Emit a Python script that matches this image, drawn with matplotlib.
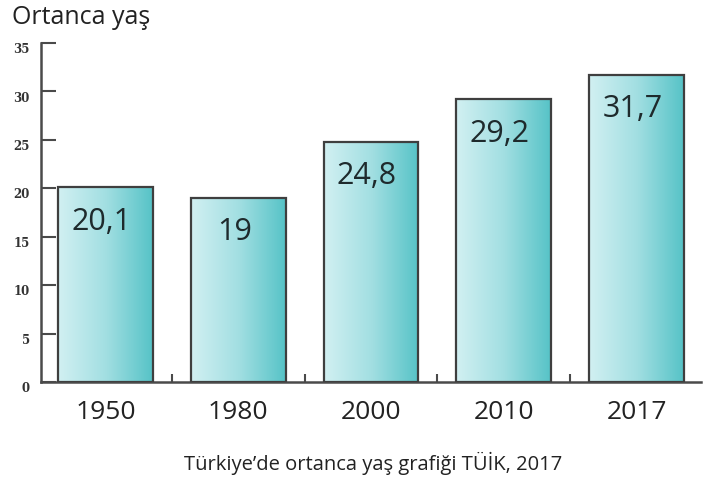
import matplotlib
matplotlib.use("Agg")
import matplotlib.pyplot as plt
import numpy as np
from matplotlib.colors import LinearSegmentedColormap
from matplotlib.transforms import ScaledTranslation

years = ["1950", "1980", "2000", "2010", "2017"]
values = [20.1, 19, 24.8, 29.2, 31.7]
labels = ["20,1", "19", "24,8", "29,2", "31,7"]
yticks = [0, 5, 10, 15, 20, 25, 30, 35]

plt.rcParams['font.family'] = ['Open Sans', 'DejaVu Sans']

fig = plt.figure(figsize=(7.21, 4.81), dpi=100)
ax = fig.add_axes([41/721, 98/481, 660/721, 339/481])

cmap = LinearSegmentedColormap.from_list("g", ["#d2f0f2", "#a3dfe2", "#56c3c7"])
grad = np.linspace(0, 1, 256).reshape(1, -1)
x = np.arange(len(years))
width = 0.714
bars = ax.bar(x, values, width=width, facecolor="none", edgecolor="#3f3f3f", linewidth=1.6, zorder=3)
for b, lab in zip(bars, labels):
    x0, w, h = b.get_x(), b.get_width(), b.get_height()
    im = ax.imshow(grad, cmap=cmap, aspect="auto", extent=[x0, x0 + w, 0, h], zorder=2)
    im.set_clip_path(b)
    ax.text(x0 + w / 2 - 0.03, h - 1.9, lab, ha="center", va="top", fontsize=22, color="#1e2a2c", zorder=4)

ax.set_xlim(-0.485, 4.485)
ax.set_ylim(0, 35)
ax.set_yticks(yticks)
ax.set_yticklabels([str(t) for t in yticks], fontsize=8.5, color="#333333", fontweight="bold",
                   family=["DejaVu Serif"])
ax.tick_params(axis="y", direction="in", length=11, width=1.5, color="#4a4a4a", pad=8)
for t in ax.get_yticklabels():
    t.set_transform(t.get_transform() + ScaledTranslation(0, -3/72, fig.dpi_scale_trans))
ax.set_xticks(x)
ax.set_xticklabels(years, fontsize=19, color="#222222")
ax.tick_params(axis="x", length=0, pad=12)
ax.set_xticks(np.arange(len(years) - 1) + 0.5, minor=True)
ax.tick_params(axis="x", which="minor", direction="in", length=6, width=1.5, color="#4a4a4a")

for s in ["top", "right"]:
    ax.spines[s].set_visible(False)
for s in ["left", "bottom"]:
    ax.spines[s].set_color("#4a4a4a")
    ax.spines[s].set_linewidth(1.8)

fig.text(12/721, 1 - 18/481, "Ortanca yaş", fontsize=18, color="#222222", va="center", ha="left")
fig.text(373/721, 1 - 463/481, "Türkiye’de ortanca yaş grafiği TÜİK, 2017", fontsize=14.5, color="#222222", va="center", ha="center")

fig.savefig("out.png", dpi=100)
